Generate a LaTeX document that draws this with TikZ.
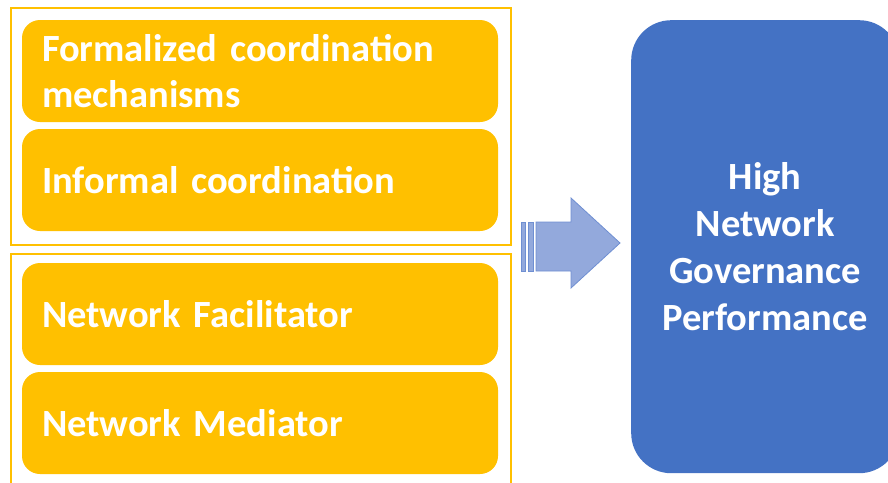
\documentclass[tikz,border=0pt]{standalone}
\usepackage{fontspec}
\setmainfont{Carlito}
\usetikzlibrary{positioning}

\definecolor{gold}{HTML}{FFC000}
\definecolor{govblue}{HTML}{4472C4}
\definecolor{arrowfill}{HTML}{93A9DC}
\definecolor{arrowline}{HTML}{6F8FD2}

\tikzset{
  factor/.style={fill=gold, rounded corners=18pt, minimum width=476pt, minimum height=102pt,
    inner xsep=20pt, text width=436pt, align=left, text=white, font=\bfseries\fontsize{38.5}{46}\selectfont},
  group/.style={draw=gold, line width=1.5pt},
  outcome/.style={fill=govblue, rounded corners=40pt, text=white, align=center,
    font=\bfseries\fontsize{38.5}{47}\selectfont}
}

\begin{document}
\begin{tikzpicture}[x=1pt,y=-1pt]
\useasboundingbox (0,0) rectangle (888,482);
\clip (0,0) rectangle (888,482);

% the two groups of factors
\draw[group] (11,8) rectangle (511,245);
\draw[group] (11,254) rectangle (511,500);

\node[factor] (formal) at (260,71) {Formalized coordination mechanisms};
\node[factor] (informal) at (260,180) {Informal coordination};
\node[factor] (facil) at (260,314) {Network Facilitator};
\node[factor] (medi) at (260,423) {Network Mediator};

% outcome box, runs past the right edge
\node[outcome, minimum width=268pt, minimum height=453pt, anchor=north west] (perf) at (631,20)
  {High\\Network\\Governance\\Performance};

% striped arrow
\coordinate (tip) at (620,243);
\draw[arrowline, fill=arrowfill, line width=0.8pt] (521,222) rectangle (525,271);
\draw[arrowline, fill=arrowfill, line width=0.8pt] (528,222) rectangle (533,271);
\draw[arrowline, fill=arrowfill, line width=0.8pt, line join=miter]
  (536,222) -- (571,222) -- (571,198) -- (tip) -- (571,288) -- (571,271) -- (536,271) -- cycle;

\end{tikzpicture}
\end{document}
